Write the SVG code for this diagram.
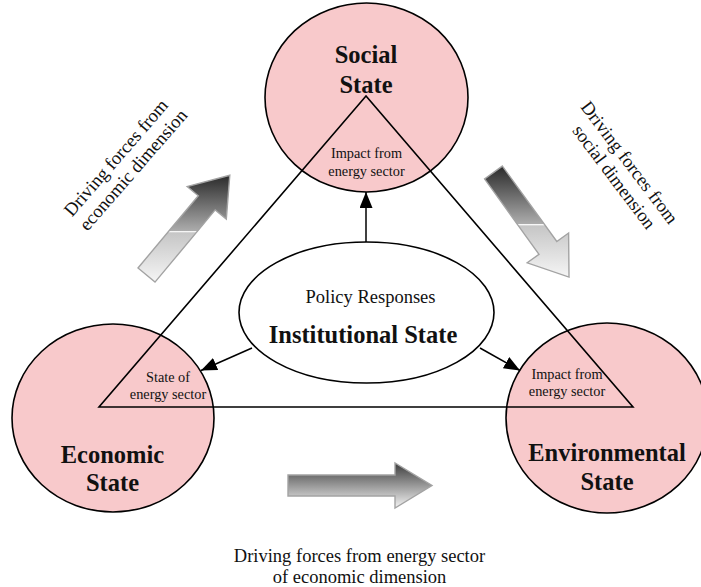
<svg xmlns="http://www.w3.org/2000/svg" width="701" height="587" viewBox="0 0 701 587">
  <style>
    .state { fill: #f8c9cb; stroke: #000; stroke-width: 1.6; }
    .inst { fill: #fff; stroke: #000; stroke-width: 1.6; }
    .edge { fill: none; stroke: #000; stroke-width: 1.6; }
    .conn { fill: none; stroke: #000; stroke-width: 1.5; }
    .block { stroke: #a3a3a3; stroke-width: 1.4; }
    text { font-family: "Liberation Serif", "Times New Roman", serif; fill: #111; text-anchor: middle; }
    .title { font-size: 24.5px; font-weight: bold; }
    .inner { font-size: 14.3px; }
    .label { font-size: 18.5px; }
  </style>
  <defs>
    <linearGradient id="gradSplit" x1="0" y1="0" x2="0" y2="1">
      <stop offset="0" stop-color="#2a2a2a"/>
      <stop offset="0.52" stop-color="#acacac"/>
      <stop offset="0.525" stop-color="#fbfbfb"/>
      <stop offset="0.54" stop-color="#c6c6c6"/>
      <stop offset="1" stop-color="#f5f5f5"/>
    </linearGradient>
    <linearGradient id="gradSmooth" x1="0" y1="0" x2="0" y2="1">
      <stop offset="0" stop-color="#3c3c3c"/>
      <stop offset="1" stop-color="#f4f4f4"/>
    </linearGradient>
    <marker id="arrow" markerUnits="userSpaceOnUse" markerWidth="17" markerHeight="14" refX="16" refY="6.5" orient="auto">
      <path d="M0,0 L16,6.5 L0,13 Z" fill="#000"/>
    </marker>
  </defs>

  <!-- state circles -->
  <g id="social-state">
    <ellipse class="state" cx="366.5" cy="97.5" rx="101.5" ry="94.5"/>
  </g>
  <g id="economic-state">
    <ellipse class="state" cx="113" cy="418" rx="101" ry="94"/>
  </g>
  <g id="environmental-state">
    <ellipse class="state" cx="607" cy="418" rx="101" ry="95"/>
  </g>

  <!-- energy sector triangle -->
  <g id="energy-triangle">
    <path class="edge" d="M366,96 L99,407 L633,407 Z"/>
  </g>

  <!-- policy response connectors -->
  <g id="connectors">
    <line class="conn" x1="366" y1="242" x2="366" y2="192" marker-end="url(#arrow)"/>
    <line class="conn" x1="252" y1="348" x2="201" y2="370.5" marker-end="url(#arrow)"/>
    <line class="conn" x1="480" y1="348" x2="520" y2="370.5" marker-end="url(#arrow)"/>
  </g>

  <!-- institutional state -->
  <g id="institutional-state">
    <ellipse class="inst" cx="366.5" cy="312.5" rx="127.5" ry="70.5"/>
    <text class="label" x="370.5" y="303">Policy Responses</text>
    <text class="title" x="363" y="343">Institutional State</text>
  </g>

  <!-- driving force block arrows -->
  <g id="force-economic">
    <path class="block" fill="url(#gradSplit)" d="M138,268 L198.3,195.8 L187.2,186.5 L229.8,175.2 L226.3,219.1 L215.2,209.9 L155,282.1 Z"/>
    <text class="label" transform="translate(122,160) rotate(-49)">
      <tspan x="0" y="0">Driving forces from</tspan>
      <tspan x="0" y="21">economic dimension</tspan>
    </text>
  </g>
  <g id="force-social">
    <path class="block" fill="url(#gradSplit)" d="M502.4,166.1 L556.8,241.5 L568.6,233 L569,277.1 L527.2,262.8 L539,254.3 L484.6,178.9 Z"/>
    <text class="label" transform="translate(626,168) rotate(53)">
      <tspan x="0" y="0">Driving forces from</tspan>
      <tspan x="0" y="21">social dimension</tspan>
    </text>
  </g>
  <g id="force-energy">
    <path class="block" fill="url(#gradSmooth)" d="M288,475 L395,475 L395,463 L432,485.5 L395,508 L395,496 L288,496 Z"/>
    <text class="label" x="359.5" y="562">Driving forces from energy sector</text>
    <text class="label" x="359.5" y="583">of economic dimension</text>
  </g>

  <!-- state labels -->
  <g id="social-labels">
    <text class="title" x="366" y="63">Social</text>
    <text class="title" x="366" y="93">State</text>
    <text class="inner" x="366.5" y="158">Impact from</text>
    <text class="inner" x="366.5" y="176">energy sector</text>
  </g>
  <g id="economic-labels">
    <text class="title" x="112.5" y="463">Economic</text>
    <text class="title" x="112.5" y="491">State</text>
    <text class="inner" x="168" y="382">State of</text>
    <text class="inner" x="168" y="399">energy sector</text>
  </g>
  <g id="environmental-labels">
    <text class="title" x="607" y="461">Environmental</text>
    <text class="title" x="607" y="490">State</text>
    <text class="inner" x="567" y="379">Impact from</text>
    <text class="inner" x="567" y="396">energy sector</text>
  </g>
</svg>
